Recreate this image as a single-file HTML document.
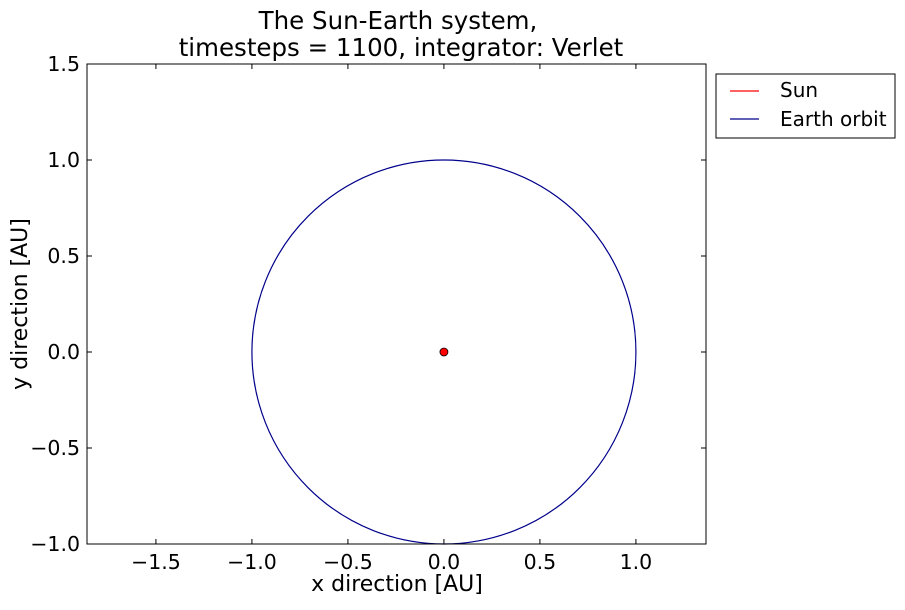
<!DOCTYPE html>
<html><head><meta charset="utf-8"><style>
body{margin:0;background:#fff;}
svg text{font-family:"DejaVu Sans","Liberation Sans",sans-serif;fill:#000;}
</style></head><body>
<svg id="chart" width="905" height="605" xmlns="http://www.w3.org/2000/svg">
<rect width="905" height="605" fill="#fff"/>
<text x="398" y="29" font-size="24.5" text-anchor="middle">The Sun-Earth system,</text>
<text x="401" y="56" font-size="24.5" text-anchor="middle">timesteps = 1100, integrator: Verlet</text>
<g id="ticks"></g>
<g id="marks"></g>
<rect x="87" y="64" width="619" height="480" fill="none" stroke="#000" stroke-width="1"/>
<text x="397" y="591" font-size="22" text-anchor="middle">x direction [AU]</text>
<text transform="translate(27,304) rotate(-90)" font-size="22" text-anchor="middle">y direction [AU]</text>
<g>
<rect x="716" y="74" width="179" height="64" fill="#fff" stroke="#000" stroke-width="1"/>
<line x1="730" y1="91" x2="759" y2="91" stroke="#f00" stroke-width="1.2"/>
<text x="780" y="97" font-size="20">Sun</text>
<line x1="730" y1="119" x2="759" y2="119" stroke="#00008b" stroke-width="1.2"/>
<text x="780" y="126" font-size="20">Earth orbit</text>
</g>
</svg>
<script>
const xTicks=[-1.5,-1.0,-0.5,0.0,0.5,1.0];
const xTickLabels=["\u22121.5","\u22121.0","\u22120.5","0.0","0.5","1.0"];
const yTicks=[-1.0,-0.5,0.0,0.5,1.0,1.5];
const yTickLabels=["\u22121.0","\u22120.5","0.0","0.5","1.0","1.5"];
const sunPos=[0.0,0.0];
const orbitCenter=[0.0,0.0];
const orbitRadius=[1.0];
const xDomain=[-1.859,1.365];
const yDomain=[-1.0,1.5];
const L=87,R=706,T=64,B=544;
const NS="http://www.w3.org/2000/svg";
function sx(v){return L+(v-xDomain[0])/(xDomain[1]-xDomain[0])*(R-L);}
function sy(v){return B-(v-yDomain[0])/(yDomain[1]-yDomain[0])*(B-T);}
function mk(tag,attrs,parent){const e=document.createElementNS(NS,tag);for(const k in attrs)e.setAttribute(k,attrs[k]);parent.appendChild(e);return e;}
const tg=document.getElementById('ticks');
xTicks.forEach((v,i)=>{const x=sx(v);
 let a=mk('line',{x1:x,y1:B,x2:x,y2:B-5,stroke:'#000'},tg);
 
 
 let b=mk('line',{x1:x,y1:T,x2:x,y2:T+5,stroke:'#000'},tg);
 
 
 let t=mk('text',{x:x,y:B+25,'font-size':20.5,'text-anchor':'middle'},tg);t.textContent=xTickLabels[i];
 
 
});
yTicks.forEach((v,i)=>{const y=sy(v);
 let a=mk('line',{x1:L,y1:y,x2:L+5,y2:y,stroke:'#000'},tg);
 
 
 let b=mk('line',{x1:R,y1:y,x2:R-5,y2:y,stroke:'#000'},tg);
 
 
 let t=mk('text',{x:L-7,y:y+7,'font-size':20.5,'text-anchor':'end'},tg);t.textContent=yTickLabels[i];
 
 
});
const mg=document.getElementById('marks');
const rx=sx(orbitCenter[0]+orbitRadius[0])-sx(orbitCenter[0]);
const ry=sy(orbitCenter[1])-sy(orbitCenter[1]+orbitRadius[0]);
let orb=mk('ellipse',{cx:sx(orbitCenter[0]),cy:sy(orbitCenter[1]),rx:rx,ry:ry,fill:'none',stroke:'#00008b','stroke-width':1.2},mg);


let sun=mk('circle',{cx:sx(sunPos[0]),cy:sy(sunPos[1]),r:4,fill:'#f00',stroke:'#000','stroke-width':0.8},mg);


</script>
</body></html>
